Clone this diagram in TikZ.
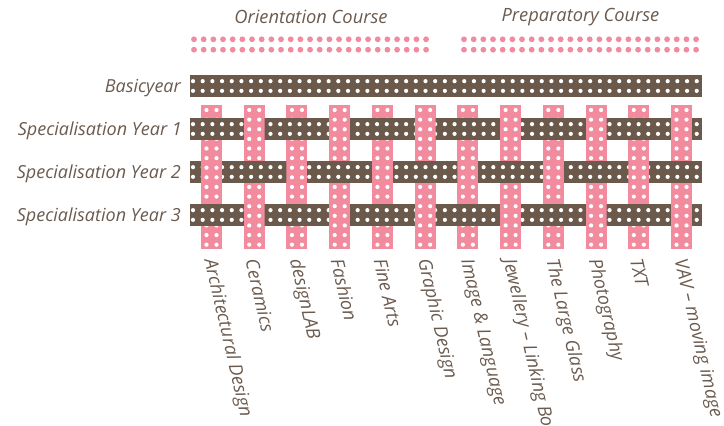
\documentclass[tikz,border=0pt]{standalone}
\usepackage{fontspec}
\setmainfont{Open Sans}
\definecolor{brn}{HTML}{6B5A4B}
\definecolor{pnk}{HTML}{F28B9E}
\definecolor{txt}{HTML}{6B5A4E}
\begin{document}
\begin{tikzpicture}[x=1pt,y=-1pt,
  lbl/.style={font=\fontsize{18}{21}\selectfont\itshape, text=txt, inner sep=0pt},
  blbl/.style={font=\fontsize{18.3}{21}\selectfont\itshape, text=txt, inner sep=0pt},
  ttl/.style={font=\fontsize{18.3}{21}\selectfont\itshape, text=txt, inner sep=0pt},
  pinkbar/.style={fill=pnk},
  brownbar/.style={fill=brn},
  hole/.style={fill=white},
  pdot/.style={fill=pnk}]
\useasboundingbox (0,0) rectangle (724,426);
% titles
\node[ttl] (orient) at (311,17) {Orientation Course};
\node[ttl] (prep) at (580.5,17) {Preparatory Course};
% top pink dots
\foreach \k in {0,...,24} {
  \fill[pdot] (194+9.67*\k,39.3) circle (2.9);
  \fill[pdot] (194+9.67*\k,49.7) circle (2.9);
  \fill[pdot] (464+9.67*\k,39.3) circle (2.9);
  \fill[pdot] (464+9.67*\k,49.7) circle (2.9);
}
% pink vertical bars (full)
\foreach \i in {0,...,11} {
  \pgfmathsetmacro\xl{201+42.73*\i}
  \fill[pinkbar] (\xl,105) rectangle ++(21,143.7);
  \foreach \k in {0,...,14} {
    \fill[hole] (\xl+5.5,110+9.62*\k) circle (2.1);
    \fill[hole] (\xl+15.5,110+9.62*\k) circle (2.1);
  }
}
% brown horizontal bars
\foreach \c in {86,129,172,215} {
  \fill[brownbar] (190,\c-11) rectangle (702,\c+11);
  \foreach \k in {0,...,52} {
    \fill[hole] (193+9.687*\k,\c-4.85) circle (2.1);
    \fill[hole] (193+9.687*\k,\c+4.85) circle (2.1);
  }
}
% pink over brown
\foreach \i in {0,...,11} {
  \foreach \r/\c in {1/129,2/172,3/215} {
    \pgfmathtruncatemacro\odd{mod(\i+\r,2)}
    \ifnum\odd=0
      \pgfmathsetmacro\xl{201+42.73*\i}
      \begin{scope}
        \clip (\xl,\c-11) rectangle ++(21,22);
        \fill[pinkbar] (\xl,\c-11) rectangle ++(21,22);
        \foreach \k in {0,...,14} {
          \fill[hole] (\xl+5.5,110+9.62*\k) circle (2.1);
          \fill[hole] (\xl+15.5,110+9.62*\k) circle (2.1);
        }
      \end{scope}
    \fi
  }
}
% row labels
\node[lbl, anchor=base east] (by) at (181,92.5) {Basicyear};
\node[lbl, anchor=base east] (s1) at (182,135.5) {Specialisation Year 1};
\node[lbl, anchor=base east] (s2) at (181,178.5) {Specialisation Year 2};
\node[lbl, anchor=base east] (s3) at (181,221.5) {Specialisation Year 3};
% bottom labels
\foreach \t [count=\n from 0] in {Architectural Design, Ceramics, designLAB, Fashion, Fine Arts, Graphic Design, Image \& Language, Jewellery – Linking Body, The Large Glass, Photography, TXT, VAV – moving image} {
  \node[blbl, rotate=-77, anchor=west] (lab\n) at (209+42.73*\n,259) {\t};
}
\end{tikzpicture}
\end{document}
